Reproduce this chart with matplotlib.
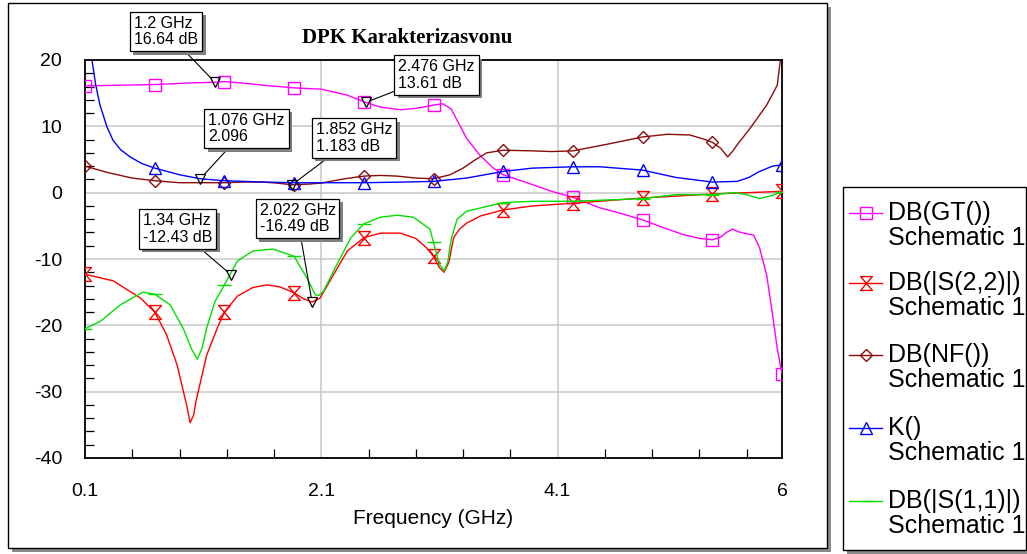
import numpy as np
import matplotlib
matplotlib.use("Agg")
import matplotlib.pyplot as plt
from matplotlib.path import Path
from matplotlib.patches import Rectangle
from matplotlib.lines import Line2D
import matplotlib.patheffects as pe

plt.rcParams['font.family'] = ['Liberation Sans', 'DejaVu Sans']
plt.rcParams['axes.unicode_minus'] = False

# ---------------- data ----------------
MARKER_FREQ = [0.1, 0.69, 1.28, 1.87, 2.46, 3.05, 3.64, 4.23, 4.82, 5.41, 6.0]

gt_freq = [0.1, 0.4, 0.69, 1.0, 1.2, 1.28, 1.45, 1.61, 1.87, 2.1, 2.32, 2.46, 2.476, 2.6, 2.77,
           2.9, 3.05, 3.13, 3.2, 3.33, 3.44, 3.55, 3.64, 3.89, 4.05, 4.23, 4.46, 4.65, 4.82,
           5.0, 5.16, 5.3, 5.41, 5.48, 5.53, 5.58, 5.63, 5.7, 5.76, 5.81, 5.87, 5.92, 5.96, 6.0]
gt_db = [16.1, 16.2, 16.3, 16.55, 16.64, 16.75, 16.5, 16.2, 15.8, 15.6, 14.7, 13.72, 13.61, 12.9, 12.5,
         12.7, 13.2, 13.4, 12.6, 8.2, 5.7, 3.8, 2.7, 1.2, 0.2, -0.7, -2.3, -3.2, -4.1,
         -5.3, -6.3, -6.9, -7.1, -6.7, -6.0, -5.5, -5.9, -6.2, -6.4, -8.3, -12.4, -18.4, -23.5, -27.3]

s22_freq = [0.1, 0.34, 0.57, 0.69, 0.79, 0.88, 0.96, 0.99, 1.02, 1.04, 1.13, 1.22, 1.28, 1.39, 1.52,
            1.64, 1.75, 1.87, 1.95, 2.022, 2.09, 2.17, 2.32, 2.46, 2.6, 2.77, 2.9, 2.99, 3.05, 3.1,
            3.14, 3.18, 3.22, 3.27, 3.33, 3.45, 3.64, 3.89, 4.23, 4.82, 5.41, 6.0]
s22_db = [-12.3, -13.3, -15.9, -18.0, -21.4, -26.0, -32.0, -34.7, -33.5, -31.4, -24.5, -20.4, -18.0, -15.6, -14.3,
          -13.9, -14.2, -15.1, -16.0, -16.49, -15.9, -13.4, -8.8, -6.8, -6.1, -6.1, -6.9, -8.3, -9.6, -11.3,
          -12.0, -10.5, -6.8, -5.5, -4.6, -3.5, -2.6, -2.0, -1.6, -0.8, -0.2, 0.2]

nf_freq = [0.1, 0.3, 0.5, 0.69, 0.9, 1.1, 1.28, 1.45, 1.61, 1.75, 1.852, 1.87, 2.0, 2.1, 2.3, 2.46,
           2.6, 2.74, 2.9, 3.05, 3.19, 3.3, 3.39, 3.5, 3.64, 3.89, 4.05, 4.23, 4.52, 4.82, 5.03,
           5.22, 5.35, 5.41, 5.48, 5.54, 5.58, 5.62, 5.73, 5.87, 5.96, 6.0]
nf_db = [4.0, 3.0, 2.2, 1.8, 1.5, 1.5, 1.5, 1.6, 1.6, 1.4, 1.183, 1.2, 1.3, 1.45, 2.1, 2.5,
         2.6, 2.5, 2.2, 2.1, 2.7, 3.7, 4.8, 6.0, 6.4, 6.3, 6.2, 6.3, 7.3, 8.4, 8.8,
         8.7, 8.0, 7.6, 6.7, 5.4, 6.2, 7.2, 9.7, 13.2, 16.2, 22.0]

k_freq = [0.1, 0.13, 0.159, 0.19, 0.227, 0.286, 0.337, 0.4, 0.481, 0.58, 0.69, 0.9, 1.076, 1.28,
          1.61, 1.87, 2.1, 2.46, 2.8, 3.05, 3.33, 3.64, 3.89, 4.23, 4.46, 4.82, 5.1, 5.41, 5.62,
          5.72, 5.81, 5.92, 6.0]
k_val = [30, 24, 20, 16.3, 13.2, 9.9, 7.9, 6.5, 5.4, 4.4, 3.7, 2.7, 2.096, 1.8,
         1.6, 1.5, 1.5, 1.5, 1.6, 1.7, 2.2, 3.2, 3.7, 3.9, 3.9, 3.4, 2.3, 1.6, 1.7,
         2.3, 3.2, 4.0, 4.2]

s11_freq = [0.1, 0.23, 0.4, 0.59, 0.69, 0.82, 0.93, 1.0, 1.05, 1.09, 1.13, 1.2, 1.28, 1.39, 1.52,
            1.69, 1.87, 1.98, 2.05, 2.08, 2.12, 2.23, 2.35, 2.46, 2.6, 2.74, 2.88, 3.02, 3.05, 3.1,
            3.14, 3.17, 3.2, 3.25, 3.33, 3.64, 3.89, 4.23, 4.82, 5.1, 5.41, 5.59, 5.7, 5.81, 5.9, 6.0]
s11_db = [-20.5, -19.4, -16.9, -15.0, -15.3, -16.9, -20.4, -23.5, -25.1, -23.5, -20.4, -16.4, -13.9, -10.3, -8.8,
          -8.5, -9.6, -12.9, -15.4, -15.5, -14.8, -10.9, -6.8, -4.7, -3.7, -3.4, -3.7, -5.5, -7.5, -10.8,
          -11.8, -10.5, -7.0, -4.0, -2.8, -1.5, -1.3, -1.3, -0.9, -0.3, -0.3, 0.0, -0.3, -0.9, -0.5, 0.1]

series_labels = ["DB(GT())", "DB(|S(2,2)|)", "DB(NF())", "K()", "DB(|S(1,1)|)"]
series_source = "Schematic 1"

ANN_FREQ = [1.2, 2.476, 1.076, 1.852, 1.34, 2.022]
ANN_VALUE = [16.64, 13.61, 2.096, 1.183, -12.43, -16.49]
ANN_UNIT = [" dB", " dB", "", " dB", " dB", " dB"]

title = "DPK Karakterizasvonu"
xlabel = "Frequency (GHz)"
xtick_vals = [0.1, 2.1, 4.1, 6]
xtick_labels = ["0.1", "2.1", "4.1", "6"]
ytick_vals = [-40, -30, -20, -10, 0, 10, 20]

# ---------------- layout ----------------
W, H = 1027, 554
fig = plt.figure(figsize=(W / 100, H / 100), dpi=100)
fig.patch.set_facecolor('white')


def fx(x):
    return x / W


def fy(y):
    return 1 - y / H


def frame(x0, y0, x1, y1, z):
    sh = 4
    fig.add_artist(Rectangle((fx(x0 + sh), fy(y1 + sh)), (x1 - x0) / W, (y1 - y0) / H,
                             transform=fig.transFigure, fc='#8a8a8a', ec='none', zorder=z))
    fig.add_artist(Rectangle((fx(x0), fy(y1)), (x1 - x0) / W, (y1 - y0) / H,
                             transform=fig.transFigure, fc='white', ec='black', lw=1.0, zorder=z + 0.1))


frame(8, 3, 827, 548, -5)
frame(843, 187, 1026, 550, 1)

ax = fig.add_axes([fx(85), fy(458), (782 - 85) / W, (458 - 60) / H])
ax.set_facecolor('white')

hourglass = Path([(-0.85, 1), (0.85, 1), (-0.85, -1), (0.85, -1), (-0.85, 1)],
                 [Path.MOVETO, Path.LINETO, Path.LINETO, Path.LINETO, Path.CLOSEPOLY])

styles = [
    (gt_freq, gt_db, '#FF00FF', 's', 9),
    (s22_freq, s22_db, '#FF0000', hourglass, 10),
    (nf_freq, nf_db, '#8B0A0A', 'D', 6.5),
    (k_freq, k_val, '#0000FF', '^', 9),
    (s11_freq, s11_db, '#00E000', '_', 10),
]

lines = []
for (f, v, c, m, ms), lab in zip(styles, series_labels):
    idx = [i for i, fv in enumerate(f) if np.any(np.isclose(fv, MARKER_FREQ))]
    ln, = ax.plot(f, v, color=c, lw=1.0, marker=m, ms=ms, mfc='none', mec=c, mew=1.0,
                  markevery=idx, label=lab, zorder=3)
    lines.append(ln)

ax.set_xlim(0.1, 6)
ax.set_ylim(-40, 20)
ax.set_xticks(xtick_vals)
ax.set_xticklabels(xtick_labels)
ax.set_xticks(np.round(np.arange(0.5, 5.8, 0.4), 2), minor=True)
ax.set_yticks(ytick_vals)
ax.set_yticks([v for v in range(-38, 20, 2) if v % 10], minor=True)
ax.tick_params(which='major', length=0, labelsize=14, colors='black')
ax.tick_params(axis='y', which='major', pad=16.5)
ax.tick_params(axis='x', which='major', pad=18)
ax.tick_params(which='minor', direction='in', length=6.5, width=0.9, color='black')
ax.grid(True, which='major', color='#c8c8c8', lw=1.1)
ax.set_axisbelow(True)
for s in ax.spines.values():
    s.set_linewidth(1.3)
    s.set_color('black')

ax.set_xlabel(xlabel, fontsize=15)
ax.xaxis.label.set_va('center')
ax.xaxis.set_label_coords(0.5, (458 - 518) / -398.0 * -1)

fig.text(fx(407), fy(38), title, ha='center', va='center', fontsize=15,
         fontweight='bold', family='Liberation Serif')

# ---------------- annotations ----------------
box_centers = [(166, 31.5), (436.5, 75), (246.5, 128.5), (354, 138), (177.5, 229), (297.5, 218.5)]
ax.plot(ANN_FREQ, ANN_VALUE, linestyle='none', marker='v', ms=7.5, mfc='none',
        mec='black', mew=0.9, zorder=5)
for f, v, u, (bx, by) in zip(ANN_FREQ, ANN_VALUE, ANN_UNIT, box_centers):
    txt = f"{f:g} GHz\n{v:g}{u}"
    a = ax.annotate(txt, xy=(f, v), xytext=(bx, H - by), textcoords='figure pixels',
                    ha='center', va='center', multialignment='left', fontsize=11.5,
                    linespacing=1.1, annotation_clip=False, zorder=6,
                    bbox=dict(boxstyle='square,pad=0.25', fc='white', ec='black', lw=0.9),
                    arrowprops=dict(arrowstyle='-', color='black', lw=0.8,
                                    shrinkA=0, shrinkB=4))
    a.get_bbox_patch().set_path_effects([
        pe.SimplePatchShadow(offset=(2.5, -2.5), shadow_rgbFace='#808080', alpha=1.0),
        pe.Normal()])

# ---------------- legend (manual) ----------------
leg_y = [213, 283, 355, 428, 501]
for ln, lab, y in zip(lines, series_labels, leg_y):
    fig.add_artist(Line2D([fx(849), fx(865.5), fx(882)], [fy(y)] * 3, transform=fig.transFigure,
                          color=ln.get_color(), lw=1.0, marker=ln.get_marker(),
                          ms=ln.get_markersize(), mfc='none', mec=ln.get_color(),
                          mew=1.0, markevery=[1], zorder=3))
    fig.text(fx(888), fy(y), lab, ha='left', va='center', fontsize=18, zorder=3)
    fig.text(fx(888), fy(y + 25), series_source, ha='left', va='center', fontsize=18, zorder=3)

fig.savefig("out.png", dpi=100, facecolor='white')
